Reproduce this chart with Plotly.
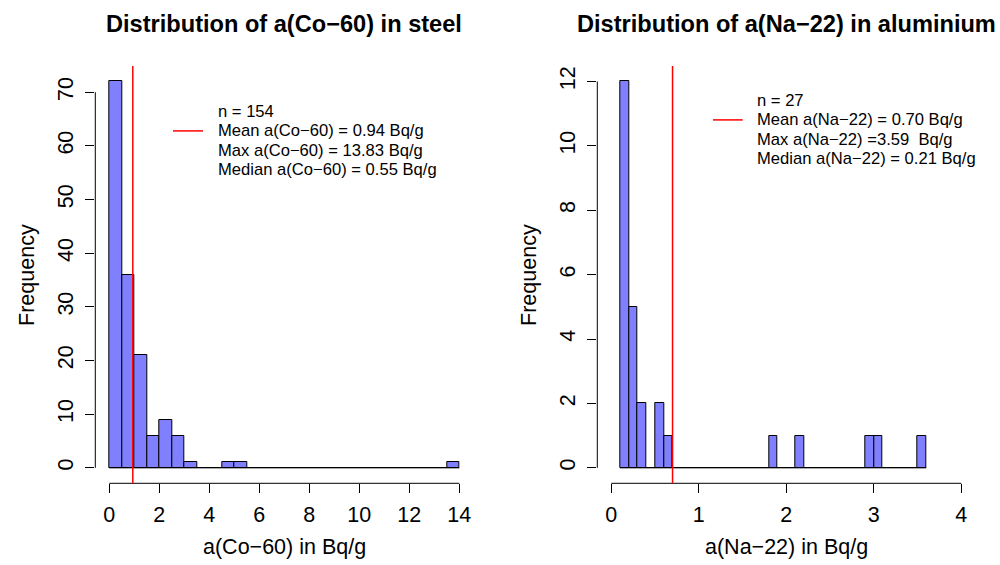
import plotly.graph_objects as go

# ---------------- data ----------------
co_bin_start = 0.0
co_bin_width = 0.5
co_counts = [72, 36, 21, 6, 9, 6, 1, 0, 0, 1, 1, 0, 0, 0,
             0, 0, 0, 0, 0, 0, 0, 0, 0, 0, 0, 0, 0, 1]
co_mean = 0.94
co_xticks = [0, 2, 4, 6, 8, 10, 12, 14]
co_yticks = [0, 10, 20, 30, 40, 50, 60, 70]
co_legend = ["n = 154",
             "Mean a(Co\u221260) = 0.94 Bq/g",
             "Max a(Co\u221260) = 13.83 Bq/g",
             "Median a(Co\u221260) = 0.55 Bq/g"]

na_bin_start = 0.1
na_bin_width = 0.1
na_counts = [12, 5, 2, 0, 2, 1, 0, 0, 0, 0, 0, 0, 0, 0, 0, 0, 0, 1,
             0, 0, 1, 0, 0, 0, 0, 0, 0, 0, 1, 1, 0, 0, 0, 0, 1]
na_mean = 0.70
na_xticks = [0, 1, 2, 3, 4]
na_yticks = [0, 2, 4, 6, 8, 10, 12]
na_legend = ["n = 27",
             "Mean a(Na\u221222) = 0.70 Bq/g",
             "Max a(Na\u221222) =3.59  Bq/g",
             "Median a(Na\u221222) = 0.21 Bq/g"]

titles = ["Distribution of a(Co\u221260) in steel",
          "Distribution of a(Na\u221222) in aluminium"]
xtitles = ["a(Co\u221260) in Bq/g", "a(Na\u221222) in Bq/g"]
ytitle = "Frequency"

# ---------------- style ----------------
FONT = "Liberation Sans, Arial, Helvetica, sans-serif"
BAR_FILL = "rgb(128,128,255)"
W, H = 1000, 565
AX_PX = 21.5
TITLE_PX = 23.6
LEG_PX = 16.6

# panel geometry in pixels
panels = [
    dict(x0=95.3, x1=473.3, xr=[-0.56, 14.56], yr=[-2.88, 74.88]),
    dict(x0=597.3, x1=975.3, xr=[-0.16, 4.16], yr=[-0.48, 12.48]),
]
PY0, PY1 = 66.0, 483.3  # top / bottom of plot region (px)

fig = go.Figure()

datasets = [
    (co_bin_start, co_bin_width, co_counts, co_mean, co_xticks, co_yticks, co_legend),
    (na_bin_start, na_bin_width, na_counts, na_mean, na_xticks, na_yticks, na_legend),
]

annotations = []
shapes = []

for i, (bstart, bw, counts, mean, xt, yt, leg) in enumerate(datasets):
    xa = "x" if i == 0 else "x2"
    ya = "y" if i == 0 else "y2"
    xaxis_key = "xaxis" if i == 0 else "xaxis2"
    yaxis_key = "yaxis" if i == 0 else "yaxis2"
    p = panels[i]
    centers = [bstart + bw * (k + 0.5) for k in range(len(counts))]
    edges_lo = bstart
    edges_hi = bstart + bw * len(counts)

    # baseline across all bins (zero-count bins drawn as flat line)
    fig.add_trace(go.Scatter(x=[edges_lo, edges_hi], y=[0, 0], mode="lines",
                             line=dict(color="black", width=1), xaxis=xa, yaxis=ya,
                             showlegend=False, hoverinfo="skip"))
    fig.add_trace(go.Bar(x=centers, y=counts, width=bw,
                         marker=dict(color=BAR_FILL, line=dict(color="black", width=1)),
                         xaxis=xa, yaxis=ya, showlegend=False))

    dom_x = [p["x0"] / W, p["x1"] / W]
    dom_y = [(H - PY1) / H, (H - PY0) / H]
    fig.layout[xaxis_key] = dict(
        domain=dom_x, range=p["xr"], tickmode="array", tickvals=xt,
        ticktext=[str(v) for v in xt], ticks="outside", ticklen=9, tickwidth=1,
        tickcolor="black", showline=False, showgrid=False, zeroline=False,
        tickfont=dict(family=FONT, size=AX_PX, color="black"), anchor=ya,
        fixedrange=True, ticklabelstandoff=3)
    fig.layout[yaxis_key] = dict(
        domain=dom_y, range=p["yr"], tickmode="array", tickvals=yt,
        ticktext=[str(v) for v in yt], ticks="outside", ticklen=9, tickwidth=1,
        tickcolor="black", showline=False, showgrid=False, zeroline=False,
        tickangle=-90,
        tickfont=dict(family=FONT, size=AX_PX, color="black"), anchor=xa,
        fixedrange=True, ticklabelstandoff=4)

    # axis lines spanning first to last tick (R style)
    shapes.append(dict(type="line", xref=xa, yref=f"{ya} domain",
                       x0=xt[0], x1=xt[-1], y0=0, y1=0,
                       line=dict(color="black", width=1)))
    shapes.append(dict(type="line", xref=f"{xa} domain", yref=ya,
                       x0=0, x1=0, y0=yt[0], y1=yt[-1],
                       line=dict(color="black", width=1)))
    # mean line
    shapes.append(dict(type="line", xref=xa, yref=f"{ya} domain",
                       x0=mean, x1=mean, y0=0, y1=1,
                       line=dict(color="red", width=1.5)))

    cx = (p["x0"] + p["x1"]) / 2 / W
    # title
    annotations.append(dict(text=f"<b>{titles[i]}</b>", xref="paper", yref="paper",
                            x=cx, y=(H - 24) / H, xanchor="center", yanchor="middle",
                            showarrow=False,
                            font=dict(family=FONT, size=TITLE_PX, color="black")))
    # x title
    annotations.append(dict(text=xtitles[i], xref="paper", yref="paper",
                            x=cx, y=(H - 547) / H, xanchor="center", yanchor="middle",
                            showarrow=False,
                            font=dict(family=FONT, size=AX_PX, color="black")))
    # y title
    annotations.append(dict(text=ytitle, xref="paper", yref="paper",
                            x=(p["x0"] - 69) / W, y=(H - (PY0 + PY1) / 2) / H,
                            xanchor="center", yanchor="middle", textangle=-90,
                            showarrow=False,
                            font=dict(family=FONT, size=AX_PX, color="black")))

# legends
legend_pos = [dict(lx0=173, lx1=203, tx=215.7, ty=111.7),
              dict(lx0=713, lx1=742.7, tx=755.3, ty=100.7)]
LINE_STEP = 19.2
for i, leg in enumerate([co_legend, na_legend]):
    lp = legend_pos[i]
    for j, txt in enumerate(leg):
        yy = lp["ty"] + j * LINE_STEP
        annotations.append(dict(text=txt, xref="paper", yref="paper",
                                x=lp["tx"] / W, y=(H - yy) / H,
                                xanchor="left", yanchor="middle", showarrow=False,
                                font=dict(family=FONT, size=LEG_PX, color="black")))
    yy = lp["ty"] + LINE_STEP
    shapes.append(dict(type="line", xref="paper", yref="paper",
                       x0=lp["lx0"] / W, x1=lp["lx1"] / W,
                       y0=(H - yy) / H, y1=(H - yy) / H,
                       line=dict(color="red", width=1.5)))

fig.update_layout(
    width=W, height=H,
    margin=dict(l=0, r=0, t=0, b=0, autoexpand=False),
    paper_bgcolor="white", plot_bgcolor="white",
    bargap=0, showlegend=False,
    annotations=annotations, shapes=shapes,
    font=dict(family=FONT, color="black"),
)

fig.write_html("out.html",
               config={"displayModeBar": False},
               post_script="document.body.style.margin='0';document.body.style.overflow='hidden';")
